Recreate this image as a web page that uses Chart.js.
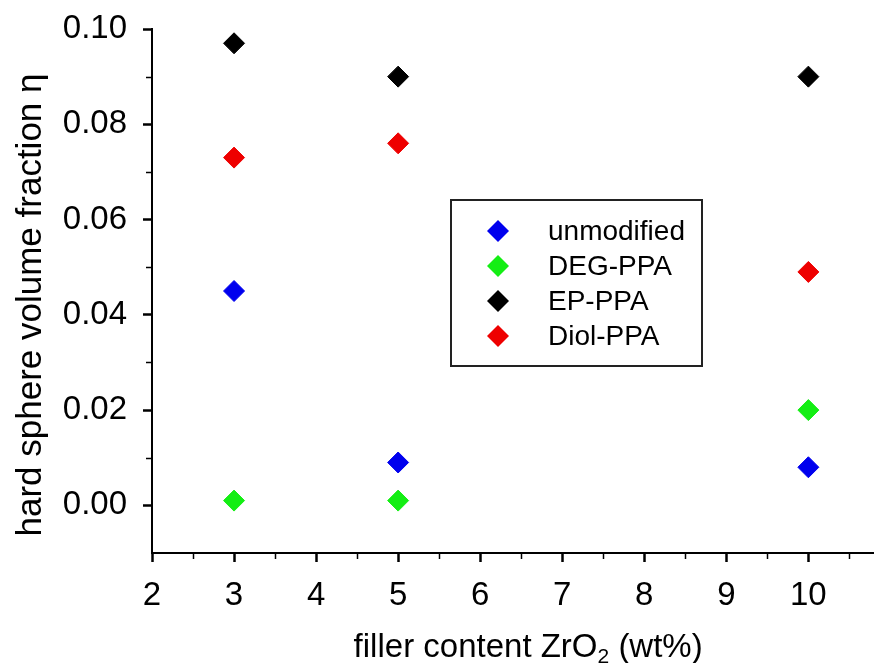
<!DOCTYPE html>
<html>
<head>
<meta charset="utf-8">
<script src="https://cdn.jsdelivr.net/npm/chart.js@4.4.1/dist/chart.umd.min.js"></script>
<style>
  html, body { margin: 0; padding: 0; background: #fff; }
  canvas { display: block; }
</style>
</head>
<body>
<canvas id="c" width="874" height="663"></canvas>
<script>
// ---- data ----
const fillerContent = [3, 5, 10];
const unmodified = [0.045, 0.009, 0.008];
const degPPA = [0.001, 0.001, 0.020];
const epPPA = [0.097, 0.090, 0.090];
const diolPPA = [0.073, 0.076, 0.049];
const seriesLabels = ['unmodified', 'DEG-PPA', 'EP-PPA', 'Diol-PPA'];
const seriesColors = ['#0000ee', '#14ee14', '#000000', '#ee0000'];
const xTickLabels = ['2', '3', '4', '5', '6', '7', '8', '9', '10'];
const yTickLabels = ['0.00', '0.02', '0.04', '0.06', '0.08', '0.10'];
const xTitleMain = 'filler content ZrO';
const xTitleSub = '2';
const xTitleEnd = ' (wt%)';
const yTitle = 'hard sphere volume fraction η';

const FONT = "'Liberation Sans', Arial, sans-serif";
const seriesValues = [unmodified, degPPA, epPPA, diolPPA];

function xLabelFor(v) {
  const s = String(Math.round(v * 100) / 100);
  return xTickLabels.includes(s) ? s : '';
}
function yLabelFor(v) {
  const s = (Math.round(v * 1000) / 1000).toFixed(2);
  return yTickLabels.includes(s) && Math.abs(v * 100 - Math.round(v * 100)) < 1e-6 ? s : '';
}

const datasets = seriesLabels.map((lab, i) => ({
  label: lab,
  data: fillerContent.map((x, j) => ({ x: x, y: seriesValues[i][j] })),
  pointStyle: 'rectRot',
  pointRadius: 10.5,
  pointHoverRadius: 10.5,
  backgroundColor: seriesColors[i],
  borderColor: seriesColors[i],
  borderWidth: 1,
  showLine: false
}));

const decorPlugin = {
  id: 'decor',
  afterDraw(chart) {
    const ctx = chart.ctx;
    const area = chart.chartArea;
    const xs = chart.scales.x, ys = chart.scales.y;
    ctx.save();
    // minor ticks
    ctx.strokeStyle = '#000';
    ctx.lineWidth = 1.5;
    xs.ticks.forEach(t => {
      if (xLabelFor(t.value) === '') {
        const px = Math.round(xs.getPixelForValue(t.value)) + 0.5;
        ctx.beginPath(); ctx.moveTo(px, area.bottom); ctx.lineTo(px, area.bottom + 6); ctx.stroke();
      }
    });
    ys.ticks.forEach(t => {
      if (yLabelFor(t.value) === '' && t.value > ys.min + 1e-9) {
        const py = Math.round(ys.getPixelForValue(t.value)) + 0.5;
        ctx.beginPath(); ctx.moveTo(area.left, py); ctx.lineTo(area.left - 6, py); ctx.stroke();
      }
    });

    // x title with subscript
    const big = '33px ' + FONT, small = '21px ' + FONT;
    ctx.fillStyle = '#000';
    ctx.textBaseline = 'alphabetic';
    ctx.textAlign = 'left';
    ctx.font = big;
    const w1 = ctx.measureText(xTitleMain).width;
    const w3 = ctx.measureText(xTitleEnd).width;
    ctx.font = small;
    const w2 = ctx.measureText(xTitleSub).width;
    const total = w1 + w2 + w3;
    const cx = area.left + area.width * 0.521;
    const baseY = 657;
    let x0 = cx - total / 2;
    ctx.font = big; ctx.fillText(xTitleMain, x0, baseY);
    ctx.font = small; ctx.fillText(xTitleSub, x0 + w1, baseY + 6);
    ctx.font = big; ctx.fillText(xTitleEnd, x0 + w1 + w2, baseY);

    // y title
    ctx.save();
    ctx.translate(31, 305);
    ctx.rotate(-Math.PI / 2);
    ctx.textAlign = 'center';
    ctx.textBaseline = 'middle';
    ctx.font = '35px ' + FONT;
    ctx.fillText(yTitle, 0, 0);
    ctx.restore();

    // legend box
    const lx = 451, ly = 200, lw = 251, lh = 166;
    ctx.strokeStyle = '#222';
    ctx.lineWidth = 2;
    ctx.strokeRect(lx, ly, lw, lh);
    ctx.font = '28px ' + FONT;
    ctx.textAlign = 'left';
    ctx.textBaseline = 'middle';
    seriesLabels.forEach((lab, i) => {
      const my = 231 + i * 35;
      const mx = 498;
      const r = 11;
      ctx.fillStyle = seriesColors[i];
      ctx.beginPath();
      ctx.moveTo(mx - r, my); ctx.lineTo(mx, my - r); ctx.lineTo(mx + r, my); ctx.lineTo(mx, my + r);
      ctx.closePath(); ctx.fill();
      ctx.fillStyle = '#000';
      ctx.fillText(lab, 548, my + 1);
    });
    ctx.restore();
  }
};

new Chart(document.getElementById('c'), {
  type: 'scatter',
  data: { datasets: datasets },
  options: {
    responsive: false,
    devicePixelRatio: 1,
    animation: false,
    events: [],
    layout: { autoPadding: false, padding: { top: 29, right: 0, left: 0, bottom: 0 } },
    plugins: { legend: { display: false }, tooltip: { enabled: false } },
    scales: {
      x: {
        type: 'linear',
        min: 2, max: 10.8,
        afterFit(s) { s.height = 110; s.paddingLeft = 0; s.paddingRight = 0; },
        ticks: {
          stepSize: 0.5,
          includeBounds: false,
          autoSkip: false,
          maxRotation: 0,
          padding: 14,
          color: '#000',
          font: { family: FONT, size: 33 },
          callback: (v) => xLabelFor(v)
        },
        grid: {
          drawOnChartArea: false,
          drawTicks: true,
          tickLength: 9,
          tickWidth: 2.5,
          tickColor: (c) => (c.tick && xLabelFor(c.tick.value) !== '') ? '#000' : 'rgba(0,0,0,0)'
        },
        border: { display: true, color: '#000', width: 2 }
      },
      y: {
        type: 'linear',
        min: -0.01, max: 0.10,
        afterFit(s) { s.width = 152; s.paddingTop = 0; s.paddingBottom = 0; },
        ticks: {
          stepSize: 0.01,
          includeBounds: false,
          autoSkip: false,
          padding: 16,
          color: '#000',
          font: { family: FONT, size: 33 },
          callback: (v) => yLabelFor(v)
        },
        grid: {
          drawOnChartArea: false,
          drawTicks: true,
          tickLength: 9,
          tickWidth: 2.5,
          tickColor: (c) => (c.tick && yLabelFor(c.tick.value) !== '') ? '#000' : 'rgba(0,0,0,0)'
        },
        border: { display: true, color: '#000', width: 2 }
      }
    }
  },
  plugins: [decorPlugin]
});
</script>
</body>
</html>
